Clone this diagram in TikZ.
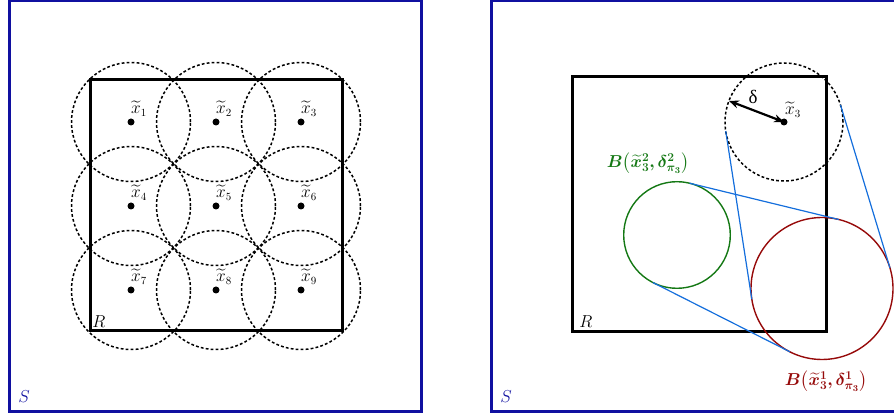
\documentclass[tikz,border=0pt]{standalone}
\usepackage{amsmath,bm}
\usepackage{fontspec}
\newfontfamily\grk{Liberation Serif}
\usetikzlibrary{arrows.meta,calc}
\definecolor{frameblue}{RGB}{16,16,160}
\definecolor{ballgreen}{RGB}{20,120,20}
\definecolor{ballred}{RGB}{150,10,10}
\definecolor{tanblue}{RGB}{20,110,220}
\begin{document}
\begin{tikzpicture}[x=1pt,y=1pt,
  frame/.style={draw=frameblue,line width=3pt},
  region/.style={draw=black,line width=3pt},
  dball/.style={draw=black,dash pattern=on 2.8pt off 2.2pt,line width=1.5pt},
  pdot/.style={circle,fill=black,minimum size=7pt,inner sep=0pt},
  ptlab/.style={font=\fontsize{16}{18}\selectfont,inner sep=0pt},
  biglab/.style={font=\fontsize{19}{21}\selectfont,inner sep=0pt},
  balllab/.style={font=\fontsize{18}{21}\selectfont,inner sep=0pt},
  tanline/.style={draw=tanblue,line width=1.2pt}]
\useasboundingbox (0,0) rectangle (894,415);
% frames
\draw[frame] (9,4) rectangle (421,414);
\draw[frame] (491,4) rectangle (905,414);
% left picture
\draw[region] (90,84) rectangle (342,335);
\foreach \r in {0,1,2}{
  \foreach \c in {0,1,2}{
    \pgfmathtruncatemacro\n{3*\r+\c+1}
    \pgfmathsetmacro\px{131+85*\c}
    \pgfmathsetmacro\py{293-84*\r}
    \coordinate (c\n) at (\px,\py);
    \draw[dball] (c\n) circle[radius=59.5pt];
    \node[pdot] (p\n) at (c\n) {};
    \node[ptlab] (l\n) at ([shift={(8,13)}]c\n) {$\widetilde{x}_{\n}$};
  }
}
\node[biglab] (rl) at (99,93) {$R$};
\node[biglab,text=frameblue] (sl) at (24,18) {$S$};
% right picture
\draw[region] (572,83) rectangle (826,338);
\coordinate (dcc) at (784,293);
\coordinate (gbc) at (677,180);
\coordinate (rbc) at (822,126.5);
\draw[dball] (dcc) circle[radius=59pt];
\draw[draw=ballgreen,line width=1.4pt] (gbc) circle[radius=53.3pt];
\draw[draw=ballred,line width=1.4pt] (rbc) circle[radius=71pt];
\node[pdot] (q3) at (dcc) {};
\node[ptlab] (q3l) at (793,305) {$\widetilde{x}_{3}$};
\coordinate (dtip) at ($(dcc)+(159:59pt)$);
\draw[line width=2.2pt,{Stealth[length=10pt,width=8pt]}-{Stealth[length=10pt,width=8pt]}] (q3.center) -- (dtip);
\node[font=\fontsize{19}{21}\selectfont\grk,inner sep=0pt] (dl) at (753,318) {δ};
\coordinate (ga) at ($(gbc)+(76.33:53.3pt)$);
\coordinate (ra) at ($(rbc)+(76.33:71pt)$);
\coordinate (gb) at ($(gbc)+(-116.83:53.3pt)$);
\coordinate (rb) at ($(rbc)+(-116.83:71pt)$);
\coordinate (da) at ($(dcc)+(16.89:59pt)$);
\coordinate (rc) at ($(rbc)+(16.89:71pt)$);
\coordinate (db) at ($(dcc)+(-171.17:59pt)$);
\coordinate (rd) at ($(rbc)+(-171.17:71pt)$);
\draw[tanline] (ga) -- (ra);
\draw[tanline] (gb) -- (rb);
\draw[tanline] (da) -- (rc);
\draw[tanline] (db) -- (rd);
\node[balllab,text=ballgreen] (gl) at (648,252) {$\boldsymbol{B\bigl(\widetilde{x}^{2}_{3},\delta^{2}_{\pi_3}\bigr)}$};
\node[balllab,text=ballred] (rlb) at (826,34) {$\boldsymbol{B\bigl(\widetilde{x}^{1}_{3},\delta^{1}_{\pi_3}\bigr)}$};
\node[biglab] (rr) at (586,93) {$R$};
\node[biglab,text=frameblue] (sr) at (506,18) {$S$};
\end{tikzpicture}
\end{document}
